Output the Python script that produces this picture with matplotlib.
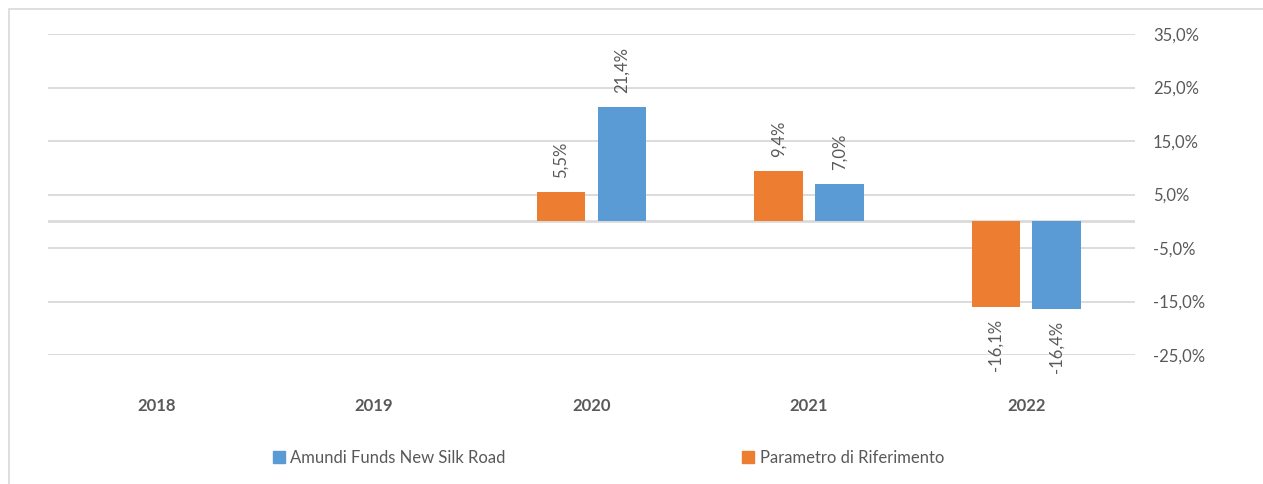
import numpy as np
import matplotlib.pyplot as plt
from matplotlib.patches import Patch, Rectangle

years = ['2018', '2019', '2020', '2021', '2022']
fund = [np.nan, np.nan, 21.4, 7.0, -16.4]
bench = [np.nan, np.nan, 5.5, 9.4, -16.1]
fund_name = 'Amundi Funds New Silk Road'
bench_name = 'Parametro di Riferimento'
yticks = [-25, -15, -5, 5, 15, 25, 35]

blue = '#5B9BD5'
orange = '#ED7D31'
grey = '#595959'
gridc = '#D9D9D9'
fs = 12

plt.rcParams['font.family'] = ['Lato', 'DejaVu Sans']

fig = plt.figure(figsize=(12.63, 4.84), dpi=100)
# outer chart frame
fig.patches.append(Rectangle((9/1263, -0.1), 1.2, 0.1 + 1 - 9/484, transform=fig.transFigure,
                             fill=False, edgecolor=gridc, lw=1.2))
ax = fig.add_axes([48/1263, 1 - 355/484, (1135 - 48)/1263, (355 - 34)/484])

ind = np.arange(len(years))
w = 0.223
off = 0.14
b1 = ax.bar(ind - off, bench, w, color=orange, zorder=3)
b2 = ax.bar(ind + off, fund, w, color=blue, zorder=3)

for bars, vals in ((b1, bench), (b2, fund)):
    for b, v in zip(bars, vals):
        if np.isnan(v):
            continue
        lab = ('%.1f%%' % v).replace('.', ',')
        if v >= 0:
            ax.annotate(lab, (b.get_x() + b.get_width()/2, v), xytext=(0, 10),
                        textcoords='offset points', rotation=90, ha='center', va='bottom',
                        fontsize=fs, color=grey)
        else:
            ax.annotate(lab, (b.get_x() + b.get_width()/2, v), xytext=(0, -8.5),
                        textcoords='offset points', rotation=90, ha='center', va='top',
                        fontsize=fs, color=grey)

ax.set_xlim(-0.5, len(years) - 0.5)
ax.set_ylim(-25, 35)
for y in yticks:
    ax.axhline(y, color=gridc, lw=1.3, zorder=1)
ax.axhline(0, color=gridc, lw=1.9, zorder=2)

ax.yaxis.tick_right()
ax.set_yticks(yticks)
ax.set_yticklabels([('%.1f%%' % y).replace('.', ',') for y in yticks], ha='left')
ax.tick_params(axis='y', length=0, pad=13, labelsize=fs, labelcolor=grey)
ax.set_xticks(ind)
ax.set_xticklabels(years, fontweight='bold')
ax.tick_params(axis='x', length=0, pad=31, labelsize=fs, labelcolor=grey)
for s in ax.spines.values():
    s.set_visible(False)

fig.legend(handles=[Patch(color=blue, label=fund_name)], loc='center left',
           bbox_to_anchor=(273/1263, 1 - 458/484), frameon=False, fontsize=fs,
           labelcolor=grey, handlelength=0.7, handleheight=0.7, handletextpad=0.35,
           borderpad=0, borderaxespad=0)
fig.legend(handles=[Patch(color=orange, label=bench_name)], loc='center left',
           bbox_to_anchor=(742/1263, 1 - 458/484), frameon=False, fontsize=fs,
           labelcolor=grey, handlelength=0.7, handleheight=0.7, handletextpad=0.35,
           borderpad=0, borderaxespad=0)

plt.savefig('out.png', dpi=100)
